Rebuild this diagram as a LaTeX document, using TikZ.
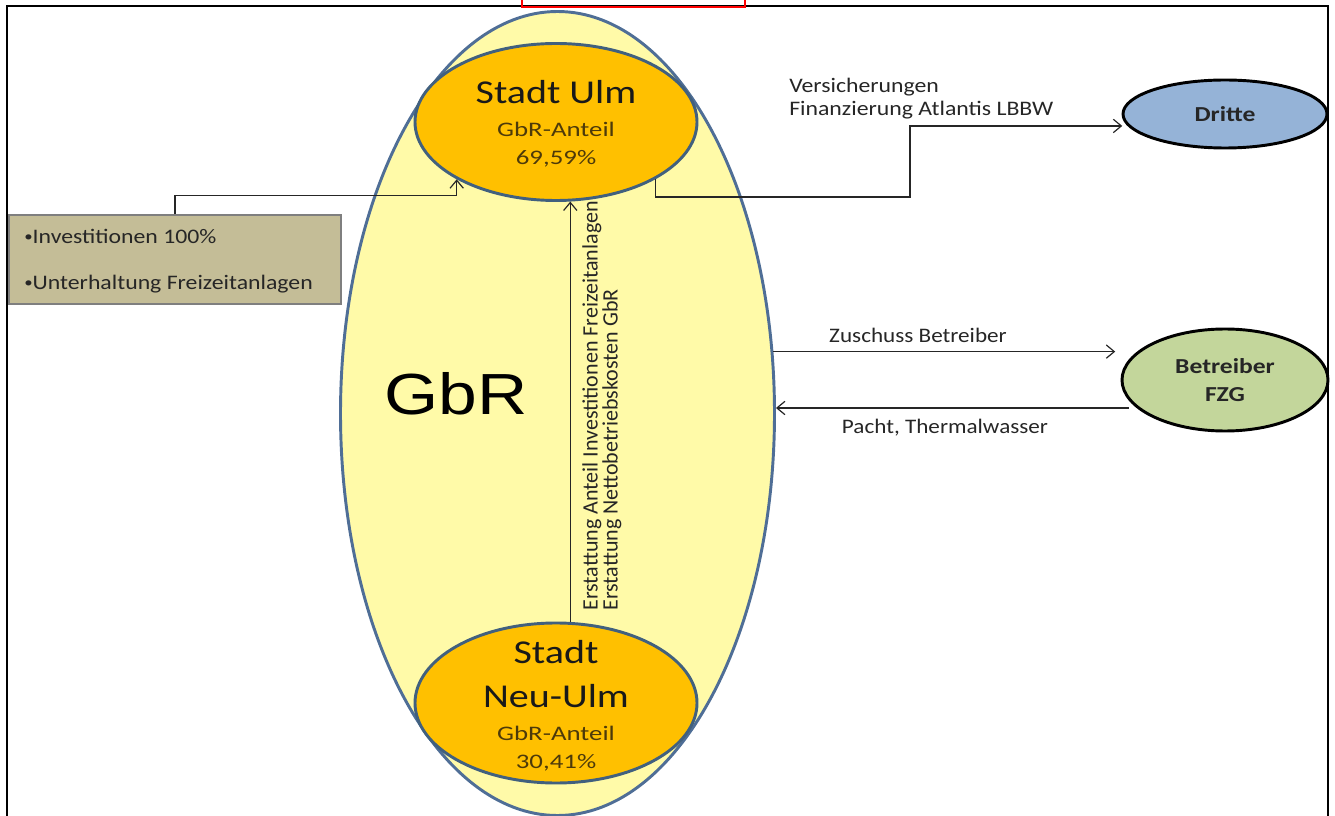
\documentclass[tikz,border=0pt]{standalone}
\usepackage{fontspec}
\setmainfont{Carlito}
\newfontfamily\arialfont{Liberation Sans}
\usetikzlibrary{shapes.geometric,arrows.meta,calc}
\definecolor{gbrfill}{HTML}{FFFAA8}
\definecolor{gbrline}{HTML}{4F6E96}
\definecolor{cityfill}{HTML}{FFC000}
\definecolor{cityline}{HTML}{41607E}
\definecolor{drittefill}{HTML}{95B3D7}
\definecolor{betfill}{HTML}{C3D69B}
\definecolor{boxfill}{HTML}{C4BD97}
\definecolor{boxline}{HTML}{7F7F7F}
\definecolor{anteiltxt}{HTML}{4D3A0A}
\newcommand\hsc[2]{\scalebox{#1}[1]{#2}}
\newcommand\smallbul{\raisebox{1.8pt}{\fontsize{11}{12}\selectfont •}}
\tikzset{
  flow/.style={draw=black!85, line width=0.9pt, -{Straight Barb[length=6pt,width=10pt,line width=0.9pt]}},
  city/.style={ellipse, draw=cityline, line width=2.2pt, fill=cityfill, minimum width=282*0.75pt, minimum height=157*0.75pt, inner sep=0pt},
  outer/.style={ellipse, draw=black, line width=2.2pt, minimum width=204*0.75pt, inner sep=0pt, font=\fontsize{16}{21}\selectfont\bfseries, align=center, text=black!85},
  bigtxt/.style={anchor=base, font=\fontsize{25}{30}\selectfont, text=black!90},
  smalltxt/.style={anchor=base, font=\fontsize{15.5}{18}\selectfont, text=anteiltxt},
  lbl/.style={font=\fontsize{15.5}{17}\selectfont, text=black!85, inner sep=0pt},
}
\begin{document}
\begin{tikzpicture}[x=0.75pt,y=-0.75pt]
\useasboundingbox (0,0) rectangle (1335,816);
% frame
\draw[line width=1.5pt] (7,816) -- (7,6.5) -- (1328,6.5) -- (1328,816);
\draw[red, line width=1.3pt] (522,-5) rectangle (745,7);

% big GbR ellipse
\node[ellipse, draw=gbrline, line width=2.2pt, fill=gbrfill, minimum width=434*0.75pt, minimum height=804*0.75pt, inner sep=0pt] (gbr) at (557.5,413.5) {};
\node[anchor=base, font=\arialfont\fontsize{43.5}{50}\selectfont] (gbrtxt) at (456,415) {\hsc{1.2}{GbR}};

% city ellipses
\node[city] (ulm) at (556,122) {};
\node[bigtxt] (ulm1) at (556,104) {\hsc{1.2}{Stadt Ulm}};
\node[smalltxt] (ulm2) at (556,137) {\hsc{1.3}{GbR-Anteil}};
\node[smalltxt] (ulm3) at (556,165) {\hsc{1.3}{69,59\%}};

\node[city, minimum height=160*0.75pt] (neu) at (556,703) {};
\node[bigtxt] (neu1) at (556,663) {\hsc{1.2}{Stadt}};
\node[bigtxt] (neu2) at (556,707) {\hsc{1.2}{Neu-Ulm}};
\node[smalltxt] (neu3) at (556,740) {\hsc{1.3}{GbR-Anteil}};
\node[smalltxt] (neu4) at (556,768) {\hsc{1.3}{30,41\%}};

% left box
\node[rectangle, draw=boxline, line width=1.2pt, fill=boxfill, minimum width=332*0.75pt, minimum height=89*0.75pt, inner sep=0pt] (box) at (175,259.5) {};
\node[lbl, anchor=base west] (box1) at (24,244) {\hsc{1.15}{\smallbul Investitionen 100\%}};
\node[lbl, anchor=base west] (box2) at (24,290) {\hsc{1.15}{\smallbul Unterhaltung Freizeitanlagen}};

% right ellipses
\node[outer, fill=drittefill, minimum height=68*0.75pt] (dritte) at (1225,114) {\hsc{1.2}{Dritte}};
\node[outer, fill=betfill, minimum width=206*0.75pt, minimum height=102*0.75pt] (bet) at (1225,380) {\hsc{1.2}{Betreiber}\\\hsc{1.2}{FZG}};

% connectors
\draw[flow] (box.north) -- ++(0,-19) -| (ulm.-150);
\coordinate (j1) at (910,197);
\draw[flow, shorten >=4pt] (ulm.-30) |- (j1) |- (dritte.187);
\node[lbl, anchor=base west, align=left] (versl) at (789,93) {\hsc{1.15}{Versicherungen}};
\node[lbl, anchor=base west, align=left] (finl) at (789,116) {\hsc{1.15}{Finanzierung Atlantis LBBW}};

\draw[flow] (neu.80) -- (neu.80 |- ulm.-80);
\node[rotate=90, anchor=north west, align=left, inner sep=0pt, font=\fontsize{16.5}{15}\selectfont, text=black!85] (erst) at (582,611) {Erstattung Anteil Investitionen Freizeitanlagen\\Erstattung Nettobetriebskosten GbR};

\draw[flow, shorten >=4pt] (gbr.16.5) -- (gbr.16.5 -| bet.west);
\node[lbl, anchor=base] (zus) at (918,343) {\hsc{1.12}{Zuschuss Betreiber}};

\coordinate (pstart) at ([shift={(8,28)}]bet.west);
\draw[flow] (pstart) -- (pstart -| gbr.east);
\node[lbl, anchor=base] (pacht) at (945,434) {\hsc{1.12}{Pacht, Thermalwasser}};
\end{tikzpicture}
\end{document}
